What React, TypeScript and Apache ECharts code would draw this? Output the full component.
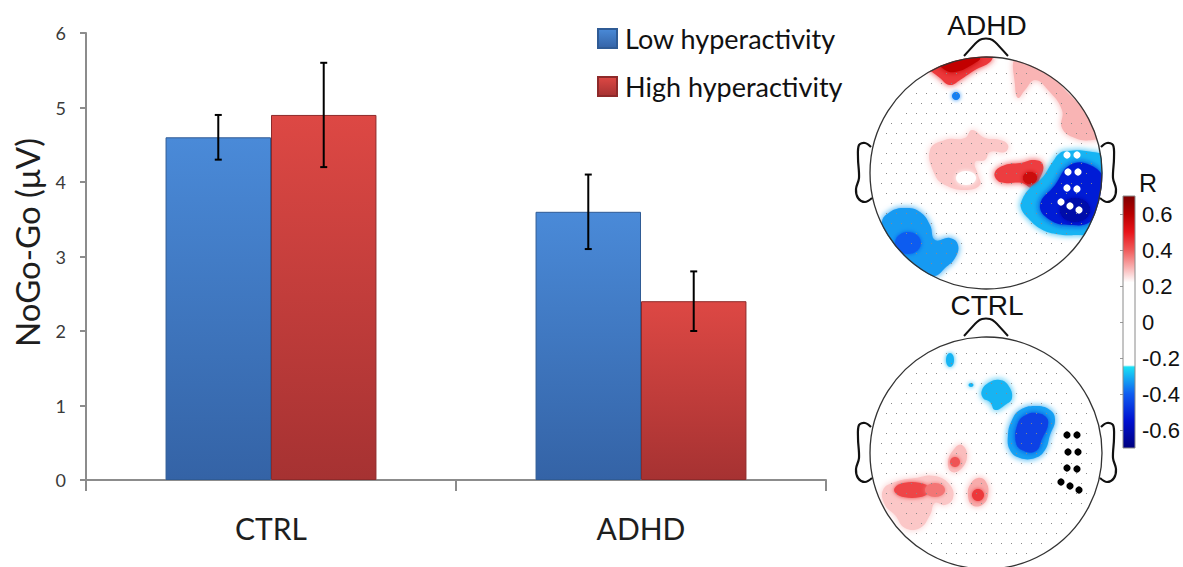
import React, { useEffect, useRef } from 'react';
import * as echarts from 'echarts';

// ---- bar chart data ----
const categories = ['CTRL', 'ADHD'];
const seriesNames = ['Low hyperactivity', 'High hyperactivity'];
const lowValues = [4.6, 3.6];
const highValues = [4.9, 2.4];
const lowErrors = [0.3, 0.5];
const highErrors = [0.7, 0.4];
const yMin = 0;
const yMax = 6;
const yInterval = 1;

// ---- colour bar ----
const colorbarRange = [-0.7, 0.7];
const colorbarTicks = [-0.6, -0.4, -0.2, 0, 0.2, 0.4, 0.6];
const cmapValues = [0.7, 0.6, 0.5, 0.4, 0.3, 0.22, -0.24, -0.25, -0.4, -0.55, -0.7];
const cmapColors = ['#7f0000', '#b80000', '#e8141a', '#f05a5a', '#f9b4b4', '#ffffff', '#ffffff', '#19e0f5', '#0f5cf0', '#0010d0', '#00007f'];

// ---- scalp maps: offsets in px from the head centre, R value ----
type PolyBlob = { r: number; pts: number[][] };
type EllBlob = { r: number; c: number[] }; // [dx, dy, rx, ry]

const adhdPolys: PolyBlob[] = [
  { r: 0.45, pts: [[-58, -107], [-41, -112], [-16, -118], [6, -118], [4, -111], [-11, -103], [-26, -93], [-36, -88], [-46, -95]] },
  { r: 0.58, pts: [[-46, -110], [-26, -115], [-6, -115], [-16, -107], [-31, -101], [-41, -103]] },
  { r: 0.3, pts: [[29, -115], [44, -111], [64, -98], [84, -78], [104, -58], [118, -38], [106, -33], [89, -35], [76, -45], [76, -63], [62, -83], [49, -93], [39, -83], [32, -75], [29, -88]] },
  { r: 0.28, pts: [[-56, -23], [-41, -33], [-21, -35], [-14, -43], [-1, -35], [14, -33], [22, -28], [19, -21], [4, -21], [-1, -13], [-11, -11], [-8, 2], [-6, 12], [-21, 17], [-41, 12], [-51, 2]] },
  { r: 0.44, pts: [[9, -1], [19, -8], [34, -10], [49, -13], [57, -8], [54, 5], [47, 15], [36, 10], [19, 10], [11, 7]] },
  { r: -0.3, pts: [[36, 27], [44, 15], [56, 5], [66, -10], [74, -20], [82, -22], [100, -22], [120, -15], [122, 10], [116, 40], [105, 60], [90, 62], [70, 61], [55, 56], [42, 45], [35, 35]] },
  { r: -0.52, pts: [[54, 32], [69, 12], [84, -8], [104, -8], [118, 7], [116, 32], [104, 49], [84, 52], [64, 47]] },
  { r: -0.33, pts: [[-104, 50], [-96, 39], [-81, 35], [-66, 39], [-56, 52], [-51, 67], [-36, 65], [-28, 72], [-31, 85], [-41, 95], [-51, 103], [-62, 100], [-75, 90], [-95, 70]] },
];
const adhdEllipses: EllBlob[] = [
  { r: -0.36, c: [-30, -77, 4, 4] },
  { r: 0, c: [-20, 5, 10, 7] },
  { r: 0.56, c: [44, 5, 7, 6] },
  { r: -0.62, c: [89, 37, 15, 12] },
  { r: -0.4, c: [-78, 70, 13, 11] },
];

const ctrlPolys: PolyBlob[] = [
  { r: -0.3, pts: [[-4, -63], [4, -71], [14, -73], [22, -68], [26, -55], [19, -48], [9, -43], [4, -51], [-3, -55]] },
  { r: -0.32, pts: [[26, -33], [34, -43], [49, -47], [64, -43], [69, -33], [64, -18], [59, -3], [49, 5], [34, 5], [24, -3], [22, -18]] },
  { r: -0.45, pts: [[32, -30], [40, -38], [50, -40], [60, -36], [62, -28], [56, -14], [50, -2], [38, -2], [30, -10]] },
  { r: 0.28, pts: [[-103, 37], [-91, 29], [-71, 25], [-51, 23], [-36, 32], [-33, 45], [-41, 52], [-51, 50], [-56, 62], [-66, 75], [-81, 75], [-91, 62], [-101, 52]] },
  { r: 0.29, pts: [[-38, 9], [-31, -5], [-24, -8], [-19, 2], [-24, 15], [-34, 19]] },
  { r: 0.31, pts: [[-16, 32], [-8, 25], [0, 29], [2, 42], [-4, 52], [-14, 52], [-18, 42]] },
];
const ctrlEllipses: EllBlob[] = [
  { r: -0.3, c: [-36, -93, 4, 7] },
  { r: -0.3, c: [-15, -68, 2.5, 2] },
  { r: 0.43, c: [-74, 37, 18, 8] },
  { r: 0.37, c: [-51, 37, 10, 7] },
  { r: 0.41, c: [-31, 9, 5, 5] },
  { r: 0.45, c: [-8, 42, 6, 6] },
];

// electrodes highlighted on both maps
const markedElectrodes = [[81, -18], [91, -18], [82, -1], [92, -1], [81, 15], [91, 16], [75, 29], [84, 33], [93, 37]];

const HEAD_R = 116;
const BAR_FRACTION = 0.285;
const FONT = 'Lato, "Open Sans", sans-serif';
const MAP_FONT = '"Liberation Sans", Arial, sans-serif';

function hexToRgb(h: string) {
  const n = parseInt(h.slice(1), 16);
  return [(n >> 16) & 255, (n >> 8) & 255, n & 255];
}
function colorFor(v: number) {
  if (v >= cmapValues[0]) return cmapColors[0];
  for (let i = 0; i < cmapValues.length - 1; i++) {
    const a = cmapValues[i], b = cmapValues[i + 1];
    if (v <= a && v >= b) {
      const t = (a - v) / (a - b);
      const ca = hexToRgb(cmapColors[i]), cb = hexToRgb(cmapColors[i + 1]);
      const c = ca.map((x, k) => Math.round(x + (cb[k] - x) * t));
      return `rgb(${c[0]},${c[1]},${c[2]})`;
    }
  }
  return cmapColors[cmapColors.length - 1];
}

function headGraphics(cx: number, cy: number, title: string, polys: PolyBlob[], ells: EllBlob[], markColor: string) {
  const els: any[] = [];
  polys.forEach((b) => {
    const col = colorFor(b.r);
    els.push({
      type: 'polygon', z: 1, silent: true,
      shape: { points: b.pts.map((p) => [cx + p[0], cy + p[1]]), smooth: 0.45 },
      style: { fill: col, shadowBlur: 6, shadowColor: col },
    });
  });
  ells.forEach((b) => {
    const col = colorFor(b.r);
    els.push({
      type: 'ellipse', z: 1, silent: true,
      shape: { cx: cx + b.c[0], cy: cy + b.c[1], rx: b.c[2], ry: b.c[3] },
      style: { fill: col, shadowBlur: 4, shadowColor: col },
    });
  });
  // electrode grid
  for (let gy = -110; gy <= 110; gy += 10) {
    for (let gx = -110; gx <= 110; gx += 10) {
      const ox = gx + (Math.abs(gy / 10) % 2 ? 5 : 0);
      if (ox * ox + gy * gy < 108 * 108) {
        els.push({ type: 'rect', z: 2, silent: true, shape: { x: cx + ox, y: cy + gy, width: 1, height: 1 }, style: { fill: '#8a8a8a' } });
      }
    }
  }
  // white mask outside the scalp
  els.push({ type: 'ring', z: 3, silent: true, shape: { cx, cy, r: 135, r0: HEAD_R + 0.5 }, style: { fill: '#ffffff' } });
  els.push({ type: 'circle', z: 4, silent: true, shape: { cx, cy, r: HEAD_R }, style: { fill: 'none', stroke: '#333', lineWidth: 1.3 } });
  // nose
  els.push({
    type: 'polyline', z: 4, silent: true,
    shape: { points: [[-22, -117], [-9, -131], [-4, -134], [4, -134], [9, -131], [22, -117]].map((p) => [cx + p[0], cy + p[1]]), smooth: 0.2 },
    style: { stroke: '#111', lineWidth: 2, fill: 'none' },
  });
  // ears
  const ear = [[-115, -26], [-121, -30], [-127, -28], [-128, -15], [-127, 5], [-130, 16], [-128, 25], [-121, 29], [-114, 25]];
  [1, -1].forEach((s) => {
    els.push({
      type: 'polyline', z: 4, silent: true,
      shape: { points: ear.map((p) => [cx + s * p[0], cy + p[1]]), smooth: 0.35 },
      style: { stroke: '#111', lineWidth: 2.2, fill: 'none' },
    });
  });
  markedElectrodes.forEach((p) => {
    els.push({ type: 'circle', z: 5, silent: true, shape: { cx: cx + p[0], cy: cy + p[1], r: 3.6 }, style: { fill: markColor } });
  });
  els.push({
    type: 'text', z: 6, silent: true, x: cx + 1, y: cy - 148,
    style: { text: title, fontSize: 28, fontFamily: MAP_FONT, fill: '#111', align: 'center', verticalAlign: 'middle' },
  });
  return els;
}

function errorSeries(values: number[], errors: number[], side: number) {
  return {
    type: 'custom',
    xAxisIndex: 0,
    yAxisIndex: 0,
    z: 10,
    silent: true,
    data: values.map((v, i) => [i, v, errors[i]]),
    encode: { x: 0, y: 1 },
    renderItem: (_p: any, api: any) => {
      const i = api.value(0), v = api.value(1), e = api.value(2);
      const band = api.size([1, 0])[0];
      const x = api.coord([i, v])[0] + (side * band * BAR_FRACTION) / 2;
      const yTop = api.coord([i, v + e])[1];
      const yBot = api.coord([i, v - e])[1];
      const cap = 3.5;
      const st = { stroke: '#000', lineWidth: 2 };
      return {
        type: 'group',
        children: [
          { type: 'line', shape: { x1: x, y1: yTop, x2: x, y2: yBot }, style: st },
          { type: 'line', shape: { x1: x - cap, y1: yTop, x2: x + cap, y2: yTop }, style: st },
          { type: 'line', shape: { x1: x - cap, y1: yBot, x2: x + cap, y2: yBot }, style: st },
        ],
      };
    },
  };
}

function grad(top: string, bottom: string) {
  return new echarts.graphic.LinearGradient(0, 0, 0, 1, [
    { offset: 0, color: top },
    { offset: 1, color: bottom },
  ]);
}

export default function App() {
  const ref = useRef<HTMLDivElement>(null);
  useEffect(() => {
    if (!ref.current) return;
    const chart = echarts.init(ref.current, undefined, { renderer: 'svg' });
    const cbStops = cmapValues.map((v, i) => ({
      offset: (colorbarRange[1] - v) / (colorbarRange[1] - colorbarRange[0]),
      color: cmapColors[i],
    }));
    chart.setOption({
      animation: false,
      textStyle: { fontFamily: FONT },
      legend: {
        data: seriesNames,
        orient: 'vertical',
        left: 592,
        top: 20,
        itemWidth: 19,
        itemHeight: 19,
        itemGap: 21,
        icon: 'rect',
        textStyle: { fontSize: 27, color: '#111', fontFamily: FONT, padding: [0, 0, 0, 3] },
      },
      grid: [
        { left: 86, top: 33, width: 740, height: 447 },
        { left: 1123, top: 196, width: 12, height: 252 },
      ],
      xAxis: [
        {
          type: 'category',
          gridIndex: 0,
          data: categories,
          axisLine: { lineStyle: { color: '#8c8c8c', width: 2 } },
          axisTick: { show: true, length: 11, lineStyle: { color: '#8c8c8c', width: 2 } },
          axisLabel: { fontSize: 30, margin: 33, color: '#1e1e1e', fontFamily: FONT },
        },
        { type: 'value', gridIndex: 1, min: 0, max: 1, show: false },
      ],
      yAxis: [
        {
          type: 'value',
          gridIndex: 0,
          min: yMin,
          max: yMax,
          interval: yInterval,
          name: 'NoGo-Go (μV)',
          nameLocation: 'middle',
          nameGap: 43,
          nameRotate: 90,
          nameTextStyle: { fontSize: 33, color: '#1e1e1e', fontFamily: FONT, padding: [0, 0, 0, 28] },
          axisLine: { show: true, lineStyle: { color: '#8c8c8c', width: 2 } },
          axisTick: { show: true, length: 6, lineStyle: { color: '#8c8c8c', width: 2 } },
          axisLabel: { fontSize: 18, margin: 20, color: '#3a3a3a', fontFamily: FONT },
          splitLine: { show: false },
        },
        {
          type: 'value',
          gridIndex: 1,
          min: colorbarRange[0],
          max: colorbarRange[1],
          position: 'right',
          axisLine: { show: false },
          axisTick: { show: true, inside: true, length: 3, customValues: colorbarTicks, lineStyle: { color: '#9a9a9a' } },
          axisLabel: {
            customValues: colorbarTicks,
            fontSize: 22,
            margin: 7,
            color: '#111',
            fontFamily: MAP_FONT,
            formatter: (v: number) => (Math.abs(v) < 1e-9 ? '0' : v.toFixed(1)),
          },
          splitLine: { show: false },
        },
      ],
      series: [
        {
          name: seriesNames[0],
          type: 'bar',
          data: lowValues,
          barWidth: `${BAR_FRACTION * 100}%`,
          barGap: '0%',
          itemStyle: { color: grad('#4a8ad8', '#3463a6'), borderColor: '#2f5b95', borderWidth: 1 },
        },
        {
          name: seriesNames[1],
          type: 'bar',
          data: highValues,
          barWidth: `${BAR_FRACTION * 100}%`,
          barGap: '0%',
          itemStyle: { color: grad('#dd4844', '#a63232'), borderColor: '#8e2a2a', borderWidth: 1 },
        },
        errorSeries(lowValues, lowErrors, -1),
        errorSeries(highValues, highErrors, 1),
        {
          type: 'custom',
          xAxisIndex: 1,
          yAxisIndex: 1,
          silent: true,
          data: [[0, colorbarRange[1], colorbarRange[0]]],
          encode: { x: 0, y: [1, 2] },
          renderItem: (_p: any, api: any) => {
            const a = api.coord([0, api.value(1)]);
            const b = api.coord([1, api.value(2)]);
            return {
              type: 'rect',
              shape: { x: a[0], y: a[1], width: b[0] - a[0], height: b[1] - a[1] },
              style: { fill: new echarts.graphic.LinearGradient(0, 0, 0, 1, cbStops), stroke: '#8a8a8a', lineWidth: 1 },
            };
          },
        },
      ],
      graphic: [
        ...headGraphics(986, 173, 'ADHD', adhdPolys, adhdEllipses, '#ffffff'),
        ...headGraphics(986, 453, 'CTRL', ctrlPolys, ctrlEllipses, '#000000'),
        {
          type: 'text', x: 1139, y: 183, z: 6,
          style: { text: 'R', fontSize: 25, fontFamily: MAP_FONT, fill: '#111', align: 'left', verticalAlign: 'middle' },
        },
      ],
    });
    return () => chart.dispose();
  }, []);
  return <div ref={ref} style={{ position: 'fixed', left: 0, top: 0, width: 1183, height: 567, background: '#fff' }} />;
}
